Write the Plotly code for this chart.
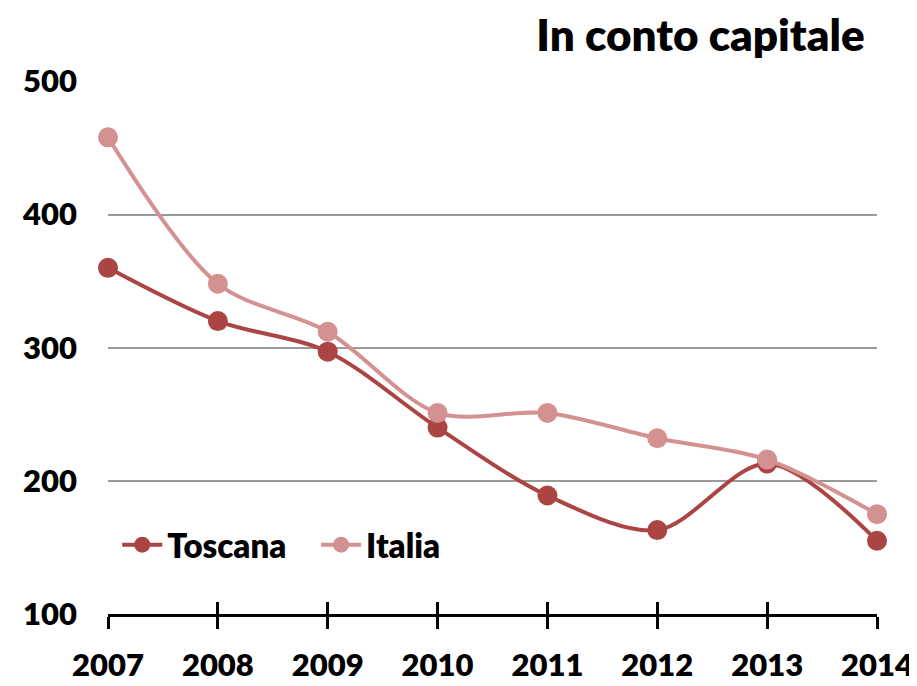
import plotly.graph_objects as go

years = [2007, 2008, 2009, 2010, 2011, 2012, 2013, 2014]
toscana = [360, 320, 297, 240, 189, 163, 213, 155]
italia = [458, 348, 312, 251, 251, 232, 216, 175]
y_ticks = [100, 200, 300, 400, 500]

c_tos = "#AB4543"
c_ita = "#D39191"
font = "Lato"

fig = go.Figure()
fig.add_trace(go.Scatter(x=years, y=toscana, name="Toscana\u2003", mode="lines+markers",
                         line=dict(color=c_tos, width=4, shape="spline", smoothing=0.9),
                         marker=dict(size=20, color=c_tos), cliponaxis=False))
fig.add_trace(go.Scatter(x=years, y=italia, name="Italia", mode="lines+markers",
                         line=dict(color=c_ita, width=4, shape="spline", smoothing=0.9),
                         marker=dict(size=20, color=c_ita), cliponaxis=False))
# invisible trace on second x axis, to draw the inner half of the ticks
fig.add_trace(go.Scatter(x=years, y=toscana, xaxis="x2", showlegend=False,
                         mode="markers", marker=dict(opacity=0), hoverinfo="skip"))

fig.update_layout(
    width=909, height=678,
    margin=dict(l=100, r=40, t=73, b=72, autoexpand=False),
    paper_bgcolor="white", plot_bgcolor="white",
    font=dict(family=font, size=31, color="black", weight=800),
    title=dict(text="In conto capitale", x=0.984, xanchor="right", xref="paper",
               y=0.982, yanchor="top",
               font=dict(size=44, family=font, color="black", weight=800)),
    xaxis=dict(range=[2007, 2014], tickmode="array", tickvals=years,
               ticktext=[str(y) for y in years], automargin=False,
               showline=True, linecolor="black", linewidth=2.5,
               ticks="outside", ticklen=12, tickwidth=2.5, tickcolor="black",
               ticklabelstandoff=10, showgrid=False, zeroline=False),
    xaxis2=dict(range=[2007, 2014], overlaying="x", anchor="y", side="bottom",
                tickmode="array", tickvals=years, showticklabels=False,
                ticks="inside", ticklen=12, tickwidth=2.5, tickcolor="black",
                showgrid=False, zeroline=False, showline=False, automargin=False),
    yaxis=dict(range=[100, 500.3], tickmode="array", tickvals=y_ticks,
               ticktext=[str(v) for v in y_ticks], automargin=False,
               showgrid=True, gridcolor="#9a9a9a", gridwidth=1.8,
               zeroline=False, showline=False, ticks="", ticklabelstandoff=30),
    legend=dict(orientation="h", x=0.012, xanchor="left", y=0.13, yanchor="middle",
                bgcolor="rgba(0,0,0,0)",
                font=dict(size=33, family=font, color="black", weight=800),
                itemwidth=40, traceorder="normal"),
    showlegend=True,
)

fig.write_html("out.html")
